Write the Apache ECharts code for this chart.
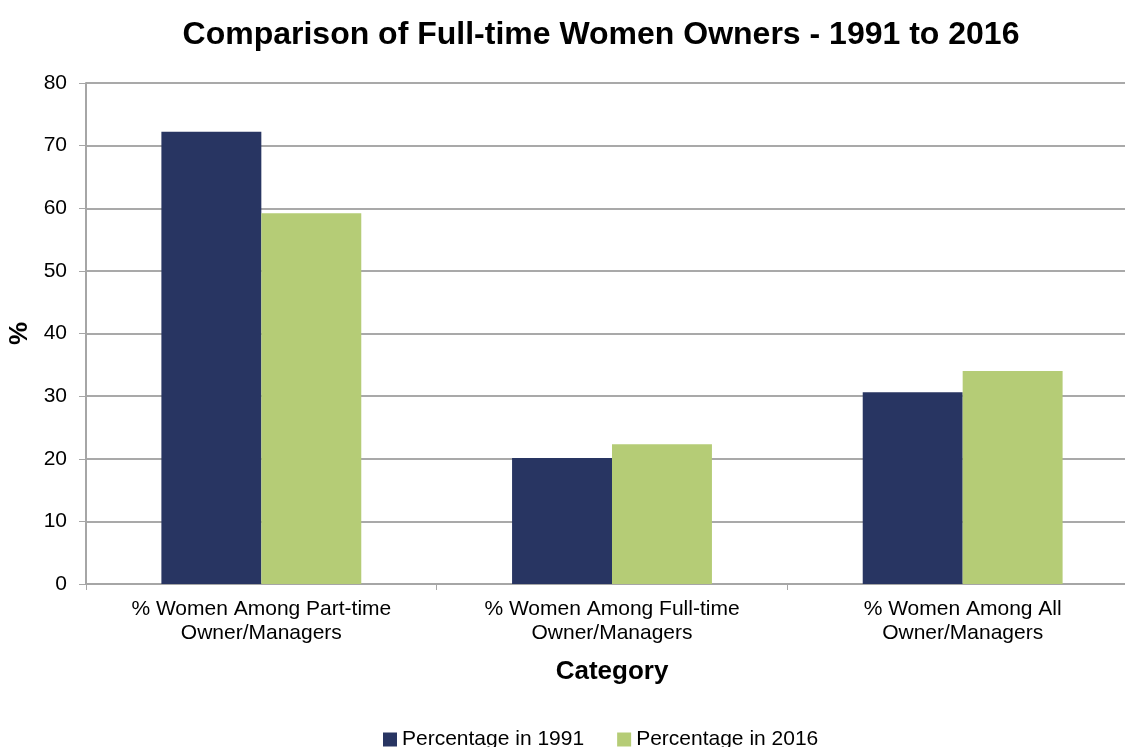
<!DOCTYPE html>
<html><head><meta charset="utf-8">
<script src="https://cdn.jsdelivr.net/npm/echarts@6/dist/echarts.min.js"></script>
<style>html,body{margin:0;padding:0;background:#fff}#c{width:1125px;height:747px}</style>
</head><body><div id="c"></div>
<script>
const categories = ['% Women Among Part-time\nOwner/Managers', '% Women Among Full-time\nOwner/Managers', '% Women Among All\nOwner/Managers'];
const series1991 = [72.2, 20.1, 30.6];
const series2016 = [59.2, 22.3, 34.0];
const seriesNames = ['Percentage in 1991', 'Percentage in 2016'];
const chart = echarts.init(document.getElementById('c'), null, {renderer: 'canvas'});
const F = 'Arial, "Liberation Sans", sans-serif';
chart.setOption({
  animation: false,
  title: {text: 'Comparison of Full-time Women Owners - 1991 to 2016', left: 596, textAlign: 'center', top: 14,
    textStyle: {fontFamily: F, fontSize: 32, fontWeight: 'bold', color: '#000'}},
  legend: {data: seriesNames, top: 724, left: 378, itemWidth: 14, itemHeight: 14, itemGap: 33,
    icon: 'rect', textStyle: {fontFamily: F, fontSize: 21, color: '#000'}},
  grid: {left: 86, top: 83, width: 1052, height: 501, containLabel: false, outerBoundsMode: 'none'},
  xAxis: {type: 'category', data: categories, name: 'Category', nameLocation: 'middle', nameGap: 75,
    nameTextStyle: {fontFamily: F, fontSize: 26, fontWeight: 'bold', color: '#000'},
    axisLine: {lineStyle: {color: '#a6a6a6', width: 2}},
    axisTick: {show: true, length: 6, lineStyle: {color: '#a6a6a6'}},
    axisLabel: {fontFamily: F, fontSize: 21, color: '#000', margin: 13, lineHeight: 24}},
  yAxis: {type: 'value', min: 0, max: 80, interval: 10, name: '%', nameLocation: 'middle', nameGap: 51,
    nameTextStyle: {fontFamily: F, fontSize: 26, fontWeight: 'bold', color: '#000'},
    axisLine: {show: true, lineStyle: {color: '#a6a6a6', width: 2}},
    axisTick: {show: true, length: 7, lineStyle: {color: '#a6a6a6'}},
    axisLabel: {fontFamily: F, fontSize: 21, color: '#000', margin: 19},
    splitLine: {lineStyle: {color: '#8c8c8c', width: 1.5}}},
  series: [
    {name: seriesNames[0], type: 'bar', data: series1991, barGap: '0%', barCategoryGap: '43%',
      itemStyle: {color: '#283562'}},
    {name: seriesNames[1], type: 'bar', data: series2016, barGap: '0%', barCategoryGap: '43%',
      itemStyle: {color: '#b5cc76'}}
  ]
});
</script></body></html>
